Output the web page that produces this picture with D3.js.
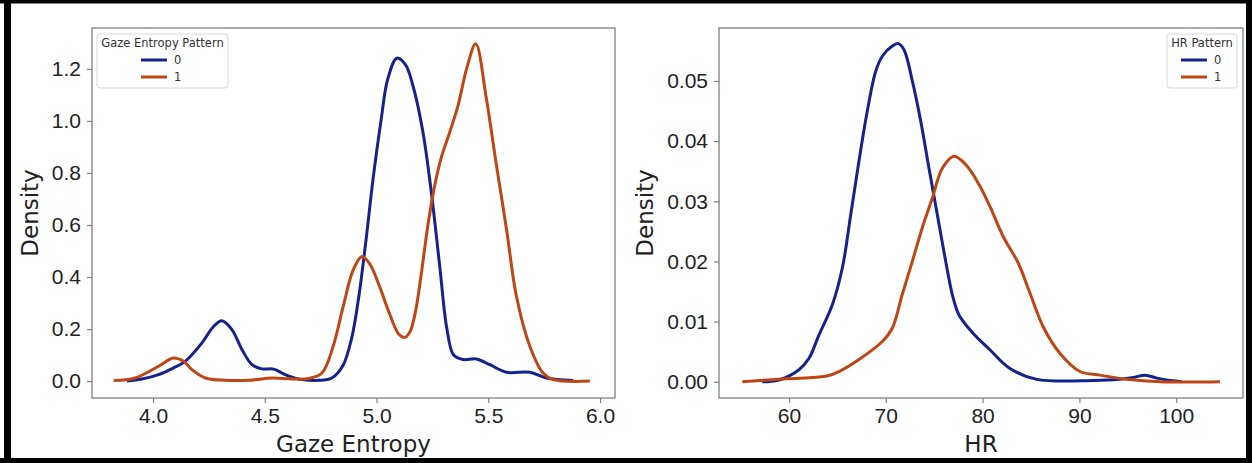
<!DOCTYPE html>
<html>
<head>
<meta charset="utf-8">
<script src="https://cdn.jsdelivr.net/npm/d3@7"></script>
<style>
  body { margin: 0; background: #fff; }
  svg { display: block; font-family: "DejaVu Sans", sans-serif; }
  .tick text { fill: #222; }
</style>
</head>
<body>
<svg id="chart" width="1252" height="463"></svg>
<script>
// density curves: [value, density]
const gazePattern0 = [
  [3.884, 0], [3.95, 0.008], [4.025, 0.025], [4.09, 0.05], [4.144, 0.076],
  [4.219, 0.147], [4.271, 0.21], [4.308, 0.232], [4.353, 0.198], [4.398, 0.121],
  [4.443, 0.063], [4.487, 0.047], [4.54, 0.046], [4.591, 0.025], [4.651, 0.008],
  [4.741, 0.003], [4.80, 0.012], [4.85, 0.06], [4.89, 0.17], [4.92, 0.32],
  [4.95, 0.52], [4.985, 0.78], [5.02, 1.0], [5.05, 1.16], [5.091, 1.241],
  [5.13, 1.215], [5.163, 1.135], [5.207, 0.96], [5.246, 0.72], [5.283, 0.44],
  [5.315, 0.2], [5.345, 0.1], [5.387, 0.083], [5.447, 0.085], [5.507, 0.063],
  [5.582, 0.034], [5.686, 0.034], [5.76, 0.012], [5.88, 0.002]
];
const gazePattern1 = [
  [3.824, 0.002], [3.92, 0.012], [4.025, 0.057], [4.092, 0.089], [4.137, 0.076],
  [4.174, 0.044], [4.234, 0.012], [4.323, 0.003], [4.428, 0.003], [4.532, 0.012],
  [4.622, 0.008], [4.696, 0.01], [4.756, 0.031], [4.806, 0.134], [4.851, 0.287],
  [4.896, 0.428], [4.935, 0.479], [4.97, 0.45], [5.015, 0.36], [5.06, 0.255],
  [5.1, 0.18], [5.127, 0.168], [5.15, 0.19], [5.175, 0.27], [5.2, 0.41],
  [5.23, 0.6], [5.26, 0.75], [5.29, 0.86], [5.325, 0.95], [5.365, 1.06],
  [5.403, 1.2], [5.444, 1.296], [5.49, 1.094], [5.535, 0.838], [5.582, 0.582],
  [5.626, 0.326], [5.686, 0.134], [5.745, 0.031], [5.79, 0.006], [5.954, 0]
];
const hrPattern0 = [
  [57.24, 0], [58.97, 0.0003], [61.03, 0.002], [62.07, 0.0039], [63.1, 0.0078],
  [64.48, 0.0128], [65.51, 0.0189], [66.38, 0.0278], [67.23, 0.0367], [68.09, 0.045],
  [68.96, 0.0516], [69.64, 0.0541], [70.67, 0.0558], [71.29, 0.0562], [71.88, 0.0552],
  [72.74, 0.05], [73.61, 0.0433], [74.46, 0.0355], [75.32, 0.0278], [76.19, 0.02],
  [76.87, 0.0145], [77.56, 0.0111], [78.94, 0.0082], [80.7, 0.0054], [82.83, 0.0022],
  [85.59, 0.0004], [91.44, 0.0002], [94.19, 0.0004], [95.57, 0.0007], [96.78, 0.0011],
  [97.99, 0.0006], [99.36, 0.0002], [100.57, 0]
];
const hrPattern1 = [
  [55.18, 0], [59.66, 0.0005], [63.79, 0.0009], [65.17, 0.0017], [67.23, 0.0037],
  [69.64, 0.0067], [70.67, 0.0089], [71.7, 0.0145], [72.74, 0.02], [73.77, 0.0256],
  [74.8, 0.0305], [75.84, 0.0355], [77.05, 0.0375], [78.26, 0.0361], [79.63, 0.0328],
  [80.77, 0.0291], [82.14, 0.0241], [83.69, 0.0197], [84.9, 0.0147], [86.27, 0.0091],
  [88.0, 0.0047], [90.06, 0.0017], [92.13, 0.0011], [94.89, 0.0004], [98.33, 0],
  [104.53, 0]
];

const gazeXTicks = [4.0, 4.5, 5.0, 5.5, 6.0];
const gazeYTicks = [0.0, 0.2, 0.4, 0.6, 0.8, 1.0, 1.2];
const hrXTicks = [60, 70, 80, 90, 100];
const hrYTicks = [0.00, 0.01, 0.02, 0.03, 0.04, 0.05];
const legendLabels = ["0", "1"];
const colors = ["#13228d", "#bf4514"];

const svg = d3.select("#chart");

function drawPanel(cfg) {
  const x = d3.scaleLinear().domain(cfg.xDomain).range([cfg.left, cfg.right]);
  const y = d3.scaleLinear().domain(cfg.yDomain).range([cfg.bottom, cfg.top]);
  const g = svg.append("g");

  g.append("rect")
    .attr("x", cfg.left).attr("y", cfg.top)
    .attr("width", cfg.right - cfg.left).attr("height", cfg.bottom - cfg.top)
    .attr("fill", "none").attr("stroke", "#808080").attr("stroke-width", 1.3);

  const xAxis = g.append("g")
    .attr("transform", `translate(0,${cfg.bottom})`)
    .call(d3.axisBottom(x).tickValues(cfg.xTicks).tickFormat(d3.format(cfg.xFmt))
      .tickSize(5).tickPadding(5));
  const yAxis = g.append("g")
    .attr("transform", `translate(${cfg.left},0)`)
    .call(d3.axisLeft(y).tickValues(cfg.yTicks).tickFormat(d3.format(cfg.yFmt))
      .tickSize(5).tickPadding(6));
  [xAxis, yAxis].forEach(a => {
    a.select(".domain").remove();
    a.selectAll(".tick line").attr("stroke", "#808080").attr("stroke-width", 1.2);
    a.selectAll(".tick text").style("font-size", "21px");
  });

  const line = d3.line()
    .x(d => x(d[0])).y(d => y(d[1]))
    .curve(d3.curveCatmullRom.alpha(0.5));

  cfg.series.forEach((s, i) => {
    g.append("path")
      .datum(s)
      .attr("d", line)
      .attr("fill", "none")
      .attr("stroke", colors[i])
      .attr("stroke-width", 3)
      .attr("stroke-linejoin", "round");
  });

  g.append("text")
    .attr("x", (cfg.left + cfg.right) / 2).attr("y", cfg.bottom + 54)
    .attr("text-anchor", "middle")
    .style("font-size", "23px").attr("fill", "#222")
    .text(cfg.xLabel);
  g.append("text")
    .attr("transform", `translate(${cfg.yLabelX},${(cfg.top + cfg.bottom) / 2}) rotate(-90)`)
    .attr("text-anchor", "middle")
    .style("font-size", "23px").attr("fill", "#222")
    .text("Density");

  // legend
  const lg = g.append("g").attr("transform", `translate(${cfg.legend.x},${cfg.legend.y})`);
  lg.append("rect")
    .attr("width", cfg.legend.w).attr("height", 54).attr("rx", 3)
    .attr("fill", "#fff").attr("stroke", "#d8d8d8");
  lg.append("text")
    .attr("x", cfg.legend.w / 2).attr("y", 13)
    .attr("text-anchor", "middle")
    .style("font-size", "11.5px").attr("fill", "#333")
    .text(cfg.legend.title);
  legendLabels.forEach((lab, i) => {
    const yy = 26 + i * 17;
    lg.append("line")
      .attr("x1", cfg.legend.lineX).attr("x2", cfg.legend.lineX + 26)
      .attr("y1", yy).attr("y2", yy)
      .attr("stroke", colors[i]).attr("stroke-width", 3);
    lg.append("text")
      .attr("x", cfg.legend.lineX + 33).attr("y", yy + 4)
      .style("font-size", "11.5px").attr("fill", "#333")
      .text(lab);
  });
}

drawPanel({
  left: 92, right: 615, top: 28, bottom: 398,
  xDomain: [3.727, 6.067], yDomain: [-0.065, 1.357],
  xTicks: gazeXTicks, yTicks: gazeYTicks, xFmt: ".1f", yFmt: ".1f",
  series: [gazePattern0, gazePattern1],
  xLabel: "Gaze Entropy", yLabelX: 38,
  legend: { x: 97, y: 34, w: 131, title: "Gaze Entropy Pattern", lineX: 44 }
});

drawPanel({
  left: 719, right: 1243, top: 28, bottom: 398,
  xDomain: [52.77, 106.9], yDomain: [-0.0027, 0.0588],
  xTicks: hrXTicks, yTicks: hrYTicks, xFmt: "d", yFmt: ".2f",
  series: [hrPattern0, hrPattern1],
  xLabel: "HR", yLabelX: 653,
  legend: { x: 1167, y: 34, w: 70, title: "HR Pattern", lineX: 14 }
});

// black frame around the figure
svg.append("rect").attr("x", 0).attr("y", 0).attr("width", 1252).attr("height", 3.5).attr("fill", "#000");
svg.append("rect").attr("x", 0).attr("y", 458).attr("width", 1252).attr("height", 5).attr("fill", "#000");
svg.append("rect").attr("x", 4).attr("y", 0).attr("width", 7).attr("height", 463).attr("fill", "#000");
svg.append("rect").attr("x", 1246).attr("y", 0).attr("width", 6).attr("height", 463).attr("fill", "#000");
</script>
</body>
</html>
